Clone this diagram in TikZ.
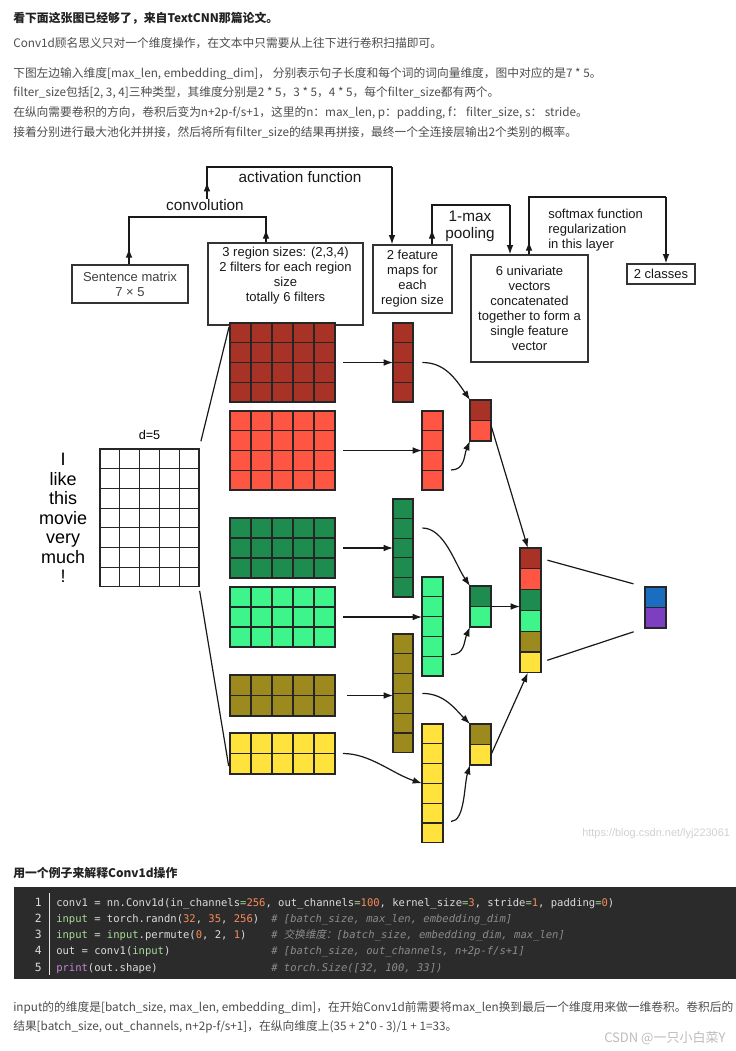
\documentclass[tikz,border=0pt]{standalone}
\usepackage{fontspec}
\setmainfont{Liberation Sans}
\newfontfamily\cjk{Noto Sans CJK SC}
\newfontfamily\cjkit[FakeSlant=0.2]{Noto Sans CJK SC}
\newfontfamily\codefont{DejaVu Sans Mono}
\usetikzlibrary{arrows.meta,positioning}

\definecolor{fdred}{HTML}{A93226}
\definecolor{fred}{HTML}{FF5644}
\definecolor{fdgreen}{HTML}{1F8C4F}
\definecolor{fgreen}{HTML}{3EF58B}
\definecolor{folive}{HTML}{9C8A1F}
\definecolor{fyellow}{HTML}{FFE23C}
\definecolor{fblue}{HTML}{1B6EBF}
\definecolor{fpurple}{HTML}{7D3EBF}
\definecolor{pagetext}{HTML}{4D4D4D}
\definecolor{pagehead}{HTML}{222222}
\definecolor{wmgray}{HTML}{BDBDBD}
\definecolor{codebg}{HTML}{2B2B2B}
\definecolor{codefg}{HTML}{DCDCDC}
\definecolor{codegreen}{HTML}{A8DC9C}
\definecolor{codenum}{HTML}{F98B5A}
\definecolor{codecmt}{HTML}{8C8C8C}
\definecolor{codekey}{HTML}{C586D8}

\newcommand{\cgreen}[1]{\textcolor{codegreen}{#1}}
\newcommand{\corange}[1]{\textcolor{codenum}{#1}}
\newcommand{\cpurple}[1]{\textcolor{codekey}{#1}}

\tikzset{
  box/.style={draw=black!80, line width=1pt, align=center, inner sep=0pt,
    font=\fontsize{9.75pt}{11.25pt}\selectfont, text=black!90},
  biglabel/.style={inner sep=0pt, align=center, text=black!90,
    font=\fontsize{11.5pt}{12.75pt}\selectfont},
  smalllabel/.style={inner sep=0pt, text=black!90,
    font=\fontsize{9.75pt}{11.25pt}\selectfont},
  cellbox/.style={draw=black!85, line width=0.8pt, anchor=north west,
    inner sep=0pt, outer sep=0pt},
  gridline/.style={black!85, line width=0.8pt},
  wire/.style={line width=0.9pt, black!90},
  flow/.style={wire, -{Latex[length=7pt,width=5pt]}},
  para/.style={anchor=base west, inner sep=0pt, text=pagetext,
    font=\cjk\fontsize{8.8pt}{11pt}\selectfont},
  head/.style={para, text=pagehead, font=\cjk\bfseries\fontsize{8.9pt}{11pt}\selectfont},
  codeline/.style={anchor=base west, inner sep=0pt, text=codefg,
    font=\codefont\fontsize{7.9pt}{10pt}\selectfont},
  comment/.style={codeline, text=codecmt, font=\codefont\itshape\fontsize{7.9pt}{10pt}\selectfont},
  lineno/.style={anchor=base east, inner sep=0pt, text=codefg,
    font=\codefont\fontsize{8.5pt}{10pt}\selectfont},
}

% #1 name, #2 x, #3 y (top left), #4 columns, #5 rows, #6 cell width, #7 cell height, #8 colour
\newcommand{\cellgrid}[8]{%
  \node[cellbox, fill=#8, minimum width=#4*#6*0.75pt, minimum height=#5*#7*0.75pt] (#1) at (#2,#3) {};
  \foreach \ii in {0,...,#4} \draw[gridline] (#2+\ii*#6,#3) -- ++(0,#5*#7);
  \foreach \ii in {0,...,#5} \draw[gridline] (#2,#3+\ii*#7) -- ++(#4*#6,0);
}

\begin{document}
\begin{tikzpicture}[x=0.75pt,y=-0.75pt]
\useasboundingbox (0,0) rectangle (736,1051);
\fill[white] (0,0) rectangle (736,1051);

% text above the figure
\node[head] (t1) at (13,22.5) {看下面这张图已经够了，来自TextCNN那篇论文。};
\node[para] (t2) at (13,47.5) {Conv1d顾名思义只对一个维度操作，在文本中只需要从上往下进行卷积扫描即可。};
\node[para] (t3) at (13,77.5) {下图左边输入维度[max\_len, embedding\_dim]， 分别表示句子长度和每个词的词向量维度，图中对应的是7 * 5。};
\node[para] (t4) at (13,96.5) {filter\_size包括[2, 3, 4]三种类型，其维度分别是2 * 5，3 * 5，4 * 5，每个filter\_size都有两个。};
\node[para] (t5) at (13,116.5) {在纵向需要卷积的方向，卷积后变为n+2p-f/s+1，这里的n：max\_len, p：padding, f： filter\_size, s： stride。};
\node[para] (t6) at (13,136.5) {接着分别进行最大池化并拼接，然后将所有filter\_size的结果再拼接，最终一个全连接层输出2个类别的概率。};

% boxes
\node[box, minimum width=87pt, minimum height=28.5pt, text=black!75] (sent) at (130,284) {Sentence matrix\\7 × 5};
\node[box, minimum width=116.25pt, minimum height=61.5pt] (region) at (285.5,284) {3 region sizes: (2,3,4)\\2 filters for each region\\size\\totally 6 filters\\[3pt]};
\node[box, minimum width=59.25pt, minimum height=51pt] (feat) at (412.5,279) {2 feature\\maps for\\each\\region size};
\node[box, minimum width=87.75pt, minimum height=80.25pt] (univ) at (529.5,308.5) {6 univariate\\vectors\\concatenated\\together to form a\\single feature\\vector};
\node[box, minimum width=51pt, minimum height=15pt] (cls) at (661,274) {2 classes};

\node[biglabel] (convlbl) at (205,205) {convolution};
\node[biglabel] (actlbl) at (300,177) {activation function};
\node[biglabel] (poollbl) at (470,226) {1-max\\pooling};
\node[smalllabel, align=left, anchor=north west] (smlbl) at (548,208.5) {softmax function\\regularization\\in this layer};

% convolution
\coordinate (convL) at (129,217);
\coordinate (convR) at (266,217);
\draw[wire] (sent.north -| convL) -- (convL) -- (convR) -- (region.north -| convR);
\draw[flow] (sent.north -| convL) -- ++(0,-16);
\draw[flow] (region.north -| convR) -- ++(0,-13);
% activation function
\coordinate (actL) at (207,167);
\coordinate (actR) at (392,167);
\draw[wire] (convlbl.north -| actL) -- (actL) -- (actR);
\draw[flow] (convlbl.north -| actL) -- ++(0,-17);
\draw[flow] (actR) -- (feat.north -| actR);
% pooling
\coordinate (poolL) at (432,205);
\coordinate (poolR) at (510,205);
\draw[wire] (feat.north -| poolL) -- (poolL) -- (poolR);
\draw[flow] (feat.north -| poolL) -- ++(0,-15);
\draw[flow] (poolR) -- (univ.north -| poolR);
% softmax
\coordinate (smL) at (529,197);
\coordinate (smR) at (666,197);
\draw[wire] (univ.north -| smL) -- (smL) -- (smR);
\draw[flow] (univ.north -| smL) -- ++(0,-13);
\draw[flow] (smR) -- (cls.north -| smR);

% sentence matrix and filters
\cellgrid{smat}{100}{449}{5}{7}{19.8}{19.7}{white}
\cellgrid{f1}{230}{323}{5}{4}{21}{19.75}{fdred}
\cellgrid{f2}{230}{411}{5}{4}{21}{19.75}{fred}
\cellgrid{f3}{230}{518}{5}{3}{21}{20}{fdgreen}
\cellgrid{f4}{230}{587}{5}{3}{21}{20}{fgreen}
\cellgrid{f5}{230}{675}{5}{2}{21}{20.5}{folive}
\cellgrid{f6}{230}{733}{5}{2}{21}{20.5}{fyellow}

\node[inner sep=0pt, align=center, font=\fontsize{13.5pt}{14.6pt}\selectfont, left=9.5pt of smat] (words) {I\\like\\this\\movie\\very\\much\\!};
\node[inner sep=0pt, font=\fontsize{9.5pt}{11pt}\selectfont, above=7pt of smat] (dlbl) {d=5};

% feature maps
\cellgrid{m1}{393}{323}{1}{4}{20}{19.75}{fdred}
\cellgrid{m2}{422}{411}{1}{4}{21}{19.75}{fred}
\cellgrid{m3}{393}{499}{1}{5}{20}{19.6}{fdgreen}
\cellgrid{m4}{422}{577}{1}{5}{21}{19.8}{fgreen}
\cellgrid{m5}{393}{634}{1}{6}{20}{19.8}{folive}
\cellgrid{m6}{422}{724}{1}{6}{21}{19.8}{fyellow}

% pooled pairs
\cellgrid{p1a}{470}{400}{1}{1}{21}{20.5}{fdred}
\cellgrid{p1b}{470}{420.5}{1}{1}{21}{20.5}{fred}
\cellgrid{p2a}{470}{586}{1}{1}{21}{20.5}{fdgreen}
\cellgrid{p2b}{470}{606.5}{1}{1}{21}{20.5}{fgreen}
\cellgrid{p3a}{470}{724}{1}{1}{21}{20.5}{folive}
\cellgrid{p3b}{470}{744.5}{1}{1}{21}{20.5}{fyellow}

% concatenated vector and output
\cellgrid{v1}{520}{548}{1}{1}{21}{20.8}{fdred}
\cellgrid{v2}{520}{568.8}{1}{1}{21}{20.8}{fred}
\cellgrid{v3}{520}{589.6}{1}{1}{21}{20.8}{fdgreen}
\cellgrid{v4}{520}{610.4}{1}{1}{21}{20.8}{fgreen}
\cellgrid{v5}{520}{631.2}{1}{1}{21}{20.8}{folive}
\cellgrid{v6}{520}{652}{1}{1}{21}{20.8}{fyellow}
\cellgrid{o1}{645}{587}{1}{1}{21}{20.5}{fblue}
\cellgrid{o2}{645}{607.5}{1}{1}{21}{20.5}{fpurple}

% connectors
\draw[wire, shorten <=6pt, shorten >=3pt] (smat.north east) -- (f1.north west);
\draw[wire, shorten <=3pt, shorten >=6pt] (smat.south east) -- (f6.south west);

\draw[flow, shorten <=6pt] (f1.east) -- (f1.east -| m1.west);
\draw[flow, shorten <=6pt] (f2.east) -- (f2.east -| m2.west);
\draw[flow, shorten <=6pt] (f3.east) -- (f3.east -| m3.west);
\draw[flow, shorten <=6pt] (f4.east) -- (f4.east -| m4.west);
\draw[flow, shorten <=9pt] (f5.east) -- (f5.east -| m5.west);
\draw[flow, shorten <=6pt] (f6.east) .. controls +(35,0) and +(-30,-10) .. (m6.west);

\draw[flow] ([xshift=7pt]m1.east) .. controls +(22,0) and +(-15,-22) .. (p1a.north west);
\draw[flow] ([shift={(6pt,15pt)}]m2.south east) .. controls +(14,0) and +(-6,14) .. (p1b.south west);
\draw[flow] ([shift={(7pt,15pt)}]m3.east) .. controls +(22,0) and +(-15,-22) .. (p2a.north west);
\draw[flow] ([shift={(6pt,16pt)}]m4.south east) .. controls +(14,0) and +(-6,14) .. (p2b.south west);
\draw[flow] ([xshift=7pt]m5.east) .. controls +(22,0) and +(-15,-15) .. (p3a.north west);
\draw[flow] ([shift={(6pt,16pt)}]m6.south east) .. controls +(14,0) and +(-6,20) .. (p3b.south west);

\draw[flow] ([yshift=4pt]p1b.east) -- ([xshift=-2pt]v1.north);
\draw[flow] (p2a.south east) -- (p2a.south east -| v3.west);
\draw[flow] (p3b.east) -- ([xshift=-2pt]v6.south);

\draw[wire, shorten <=5pt, shorten >=9pt] (v1.east) -- (o1.north west);
\draw[wire, shorten <=5pt, shorten >=9pt] (v6.east) -- (o2.south west);

\node[anchor=base west, inner sep=0pt, text=wmgray!70, font=\fontsize{8.2pt}{10pt}\selectfont] (wm1) at (582,836) {https://blog.csdn.net/lyj223061};

% example code
\node[head] (t7) at (13,877.5) {用一个例子来解释Conv1d操作};
\fill[codebg] (14,887) rectangle (736,979);
\draw[codefg!70, line width=0.75pt] (49,893) -- (49,975);
\node[lineno] (n1) at (42,906) {1};
\node[lineno] (n2) at (42,922.25) {2};
\node[lineno] (n3) at (42,938.5) {3};
\node[lineno] (n4) at (42,954.75) {4};
\node[lineno] (n5) at (42,971) {5};
\node[codeline] (ln1) at (56,906) {conv1 = nn.Conv1d(in\_channels\cgreen{=}\corange{256}, out\_channels\cgreen{=}\corange{100}, kernel\_size\cgreen{=}\corange{3}, stride\cgreen{=}\corange{1}, padding\cgreen{=}\corange{0})};
\node[codeline] (ln2) at (56,922.25) {\cgreen{input} = torch.randn(\corange{32}, \corange{35}, \corange{256})};
\node[codeline] (ln3) at (56,938.5) {\cgreen{input} = \cgreen{input}.permute(\corange{0}, 2, \corange{1})};
\node[codeline] (ln4) at (56,954.75) {out = conv1(\cgreen{input})};
\node[codeline] (ln5) at (56,971) {\cpurple{print}(out.shape)};
\node[comment] (cm2) at (271,922.25) {\# [batch\_size, max\_len, embedding\_dim]};
\node[comment] (cm3) at (271,938.5) {\# {\cjkit 交换维度：}[batch\_size, embedding\_dim, max\_len]};
\node[comment] (cm4) at (271,954.75) {\# [batch\_size, out\_channels, n+2p-f/s+1]};
\node[comment] (cm5) at (271,971) {\# torch.Size([32, 100, 33])};

% text below the code
\node[para] (t8) at (13,1011.5) {input的的维度是[batch\_size, max\_len, embedding\_dim]，在开始Conv1d前需要将max\_len换到最后一个维度用来做一维卷积。卷积后的};
\node[para] (t9) at (13,1030.5) {结果[batch\_size, out\_channels, n+2p-f/s+1]，在纵向维度上(35 + 2*0 - 3)/1 + 1=33。};
\node[para, text=wmgray, font=\cjk\fontsize{9.75pt}{11pt}\selectfont] (wm2) at (604,1042) {CSDN @一只小白菜Y};
\end{tikzpicture}
\end{document}
